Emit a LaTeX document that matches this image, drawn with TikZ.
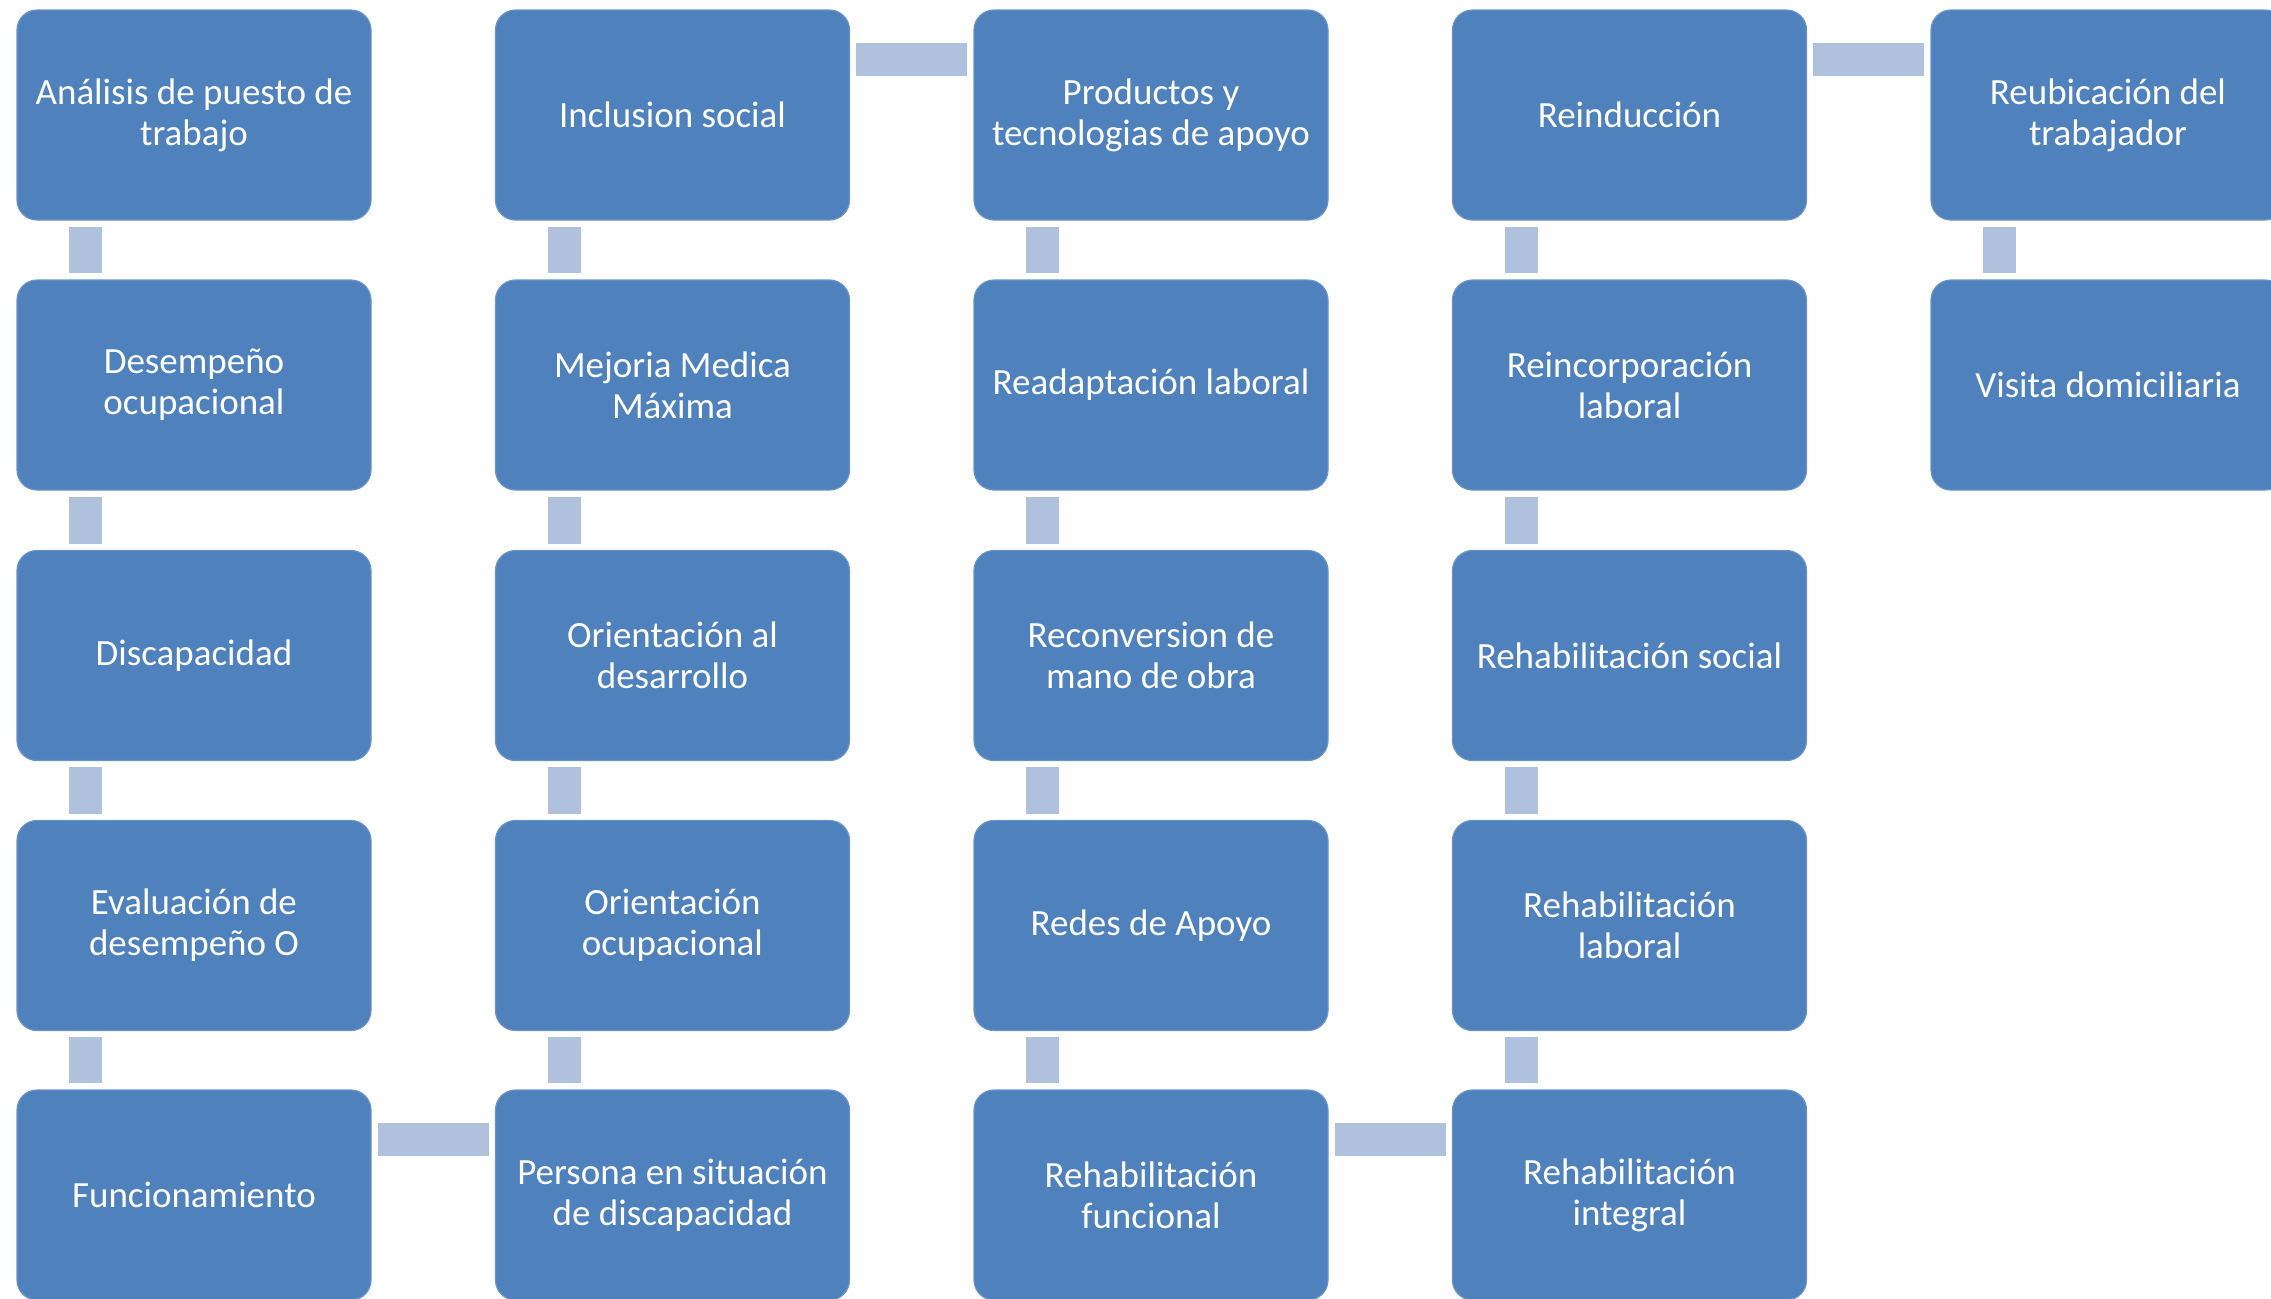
\documentclass[tikz,border=0pt]{standalone}
\usepackage{fontspec}
\setmainfont{Carlito}
\definecolor{boxblue}{HTML}{4F81BD}
\definecolor{linkblue}{HTML}{B0C1DD}
\begin{document}
\begin{tikzpicture}[x=0.5pt,y=-0.5pt,
  box/.style={rectangle, rounded corners=10pt, fill=boxblue, draw=boxblue!85!white, line width=0.6pt,
    minimum width=177pt, minimum height=105pt, inner sep=0pt, text=white, align=center,
    font=\fontsize{18.5}{20.4}\selectfont},
  link/.style={draw=linkblue, line width=16.5pt, line cap=butt}]
\useasboundingbox (0,0) rectangle (2271,1298);
\clip (0,0) rectangle (2271,1298);
% column 1
\node[box] (a1) at (194,115) {Análisis de puesto de\\trabajo};
\node[box] (a2) at (194,385) {Desempeño\\ocupacional};
\node[box] (a3) at (194,655.5) {Discapacidad};
\node[box] (a4) at (194,925.5) {Evaluación de\\desempeño O};
\node[box] (a5) at (194,1195) {Funcionamiento};
% column 2
\node[box] (b1) at (672.5,115) {Inclusion social};
\node[box] (b2) at (672.5,385) {Mejoria Medica\\Máxima};
\node[box] (b3) at (672.5,655.5) {Orientación al\\desarrollo};
\node[box] (b4) at (672.5,925.5) {Orientación\\ocupacional};
\node[box] (b5) at (672.5,1195) {Persona en situación\\de discapacidad};
% column 3
\node[box] (c1) at (1151,115) {Productos y\\tecnologias de apoyo};
\node[box] (c2) at (1151,385) {Readaptación laboral};
\node[box] (c3) at (1151,655.5) {Reconversion de\\mano de obra};
\node[box] (c4) at (1151,925.5) {Redes de Apoyo};
\node[box] (c5) at (1151,1195) {Rehabilitación\\funcional};
% column 4
\node[box] (d1) at (1629.5,115) {Reinducción};
\node[box] (d2) at (1629.5,385) {Reincorporación\\laboral};
\node[box] (d3) at (1629.5,655.5) {Rehabilitación social};
\node[box] (d4) at (1629.5,925.5) {Rehabilitación\\laboral};
\node[box] (d5) at (1629.5,1195) {Rehabilitación\\integral};
% column 5
\node[box] (e1) at (2108,115) {Reubicación del\\trabajador};
\node[box] (e2) at (2108,385) {Visita domiciliaria};
% vertical connectors
\foreach \u/\v in {a1/a2,a2/a3,a3/a4,a4/a5,b1/b2,b2/b3,b3/b4,b4/b5,c1/c2,c2/c3,c3/c4,c4/c5,d1/d2,d2/d3,d3/d4,d4/d5,e1/e2}{
  \draw[link] ([shift={(69.5,6)}]\u.south west) -- ([shift={(69.5,-6)}]\v.north west);
}
% horizontal connectors
\foreach \u/\v in {a5/b5,b1/c1,c5/d5,d1/e1}{
  \draw[link] ([shift={(6,50)}]\u.north east) -- ([shift={(-6,50)}]\v.north west);
}
\end{tikzpicture}
\end{document}
